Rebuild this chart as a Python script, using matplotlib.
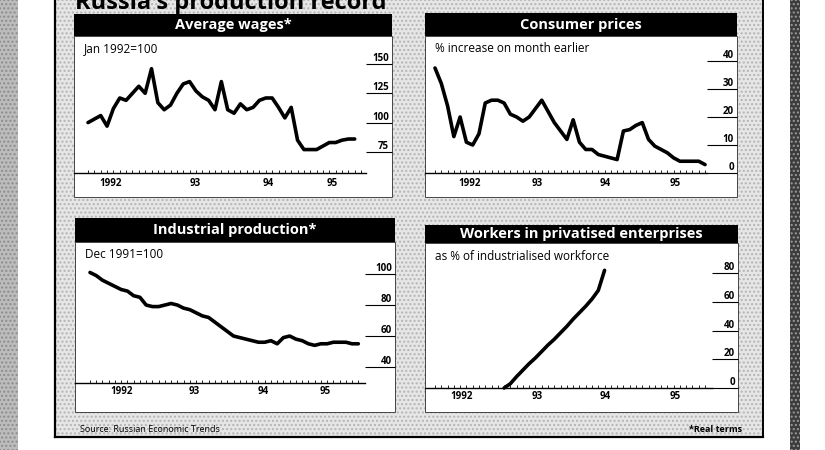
import matplotlib
matplotlib.use("Agg")
import matplotlib.pyplot as plt
from matplotlib.patches import Rectangle

plt.rcParams['font.family'] = ['Open Sans', 'DejaVu Sans']

W, H = 825, 450

# monthly values, Jan 1992 onwards
wages = [100, 103, 106, 97, 112, 121, 119, 125, 131, 125, 146, 117, 111, 115,
         125, 133, 135, 127, 122, 119, 111, 135, 111, 108, 116, 111, 113, 119,
         121, 121, 113, 104, 113, 85, 77, 77, 77, 80, 83, 83, 85, 86, 86]
wages_ticks = [75, 100, 125, 150]

prices = [37.5, 32, 24, 13, 20, 11, 10, 14, 25, 26, 26, 25, 21, 20, 18.5, 20,
          23, 26, 22, 18, 15, 12, 19, 11, 8.4, 8.4, 6.6, 6, 5.4, 4.8, 15, 15.5,
          17, 18, 12, 9.6, 8.4, 7.2, 5.4, 4.2, 4.2, 4.2, 4.2, 3]
prices_ticks = [0, 10, 20, 30, 40]

production = [101, 99, 96, 94, 92, 90, 89, 86, 85, 80, 79, 79, 80, 81, 80, 78,
              77, 75, 73, 72, 69, 66, 63, 60, 59, 58, 57, 56, 56, 57, 55, 59,
              60, 58, 57, 55, 54, 55, 55, 56, 56, 56, 55, 55]
production_ticks = [40, 60, 80, 100]

privatised_first_month = 11  # Dec 1992
privatised = [0, 3, 8, 12.5, 17, 21, 25.5, 30, 34, 38.5, 43, 48, 52.5, 57, 62,
              68, 82]
privatised_ticks = [0, 20, 40, 60, 80]

year_labels = ["1992", "93", "94", "95"]

fig = plt.figure(figsize=(W / 100, H / 100), dpi=100)


def rect(x0, y0, x1, y1, **kw):
    fig.add_artist(Rectangle((x0 / W, 1 - y1 / H), (x1 - x0) / W, (y1 - y0) / H,
                             transform=fig.transFigure, **kw))


def line(x0, y0, x1, y1, **kw):
    fig.add_artist(plt.Line2D([x0 / W, x1 / W], [1 - y0 / H, 1 - y1 / H],
                              transform=fig.transFigure, **kw))


# page background, stippled box and borders
rect(0, 0, 18, H, facecolor='#bcbcbc', edgecolor='#8c8c8c', hatch='....', lw=0)
rect(55, 0, 763, 437, facecolor='#e6e6e6', edgecolor='#b4b4b4', hatch='....', lw=0)
rect(790, 0, 800, H, facecolor='#3c3c3c', edgecolor='#999999', hatch='....', lw=0)
line(55, 0, 55, 437, color='black', lw=1.6)
line(763, 0, 763, 437, color='black', lw=1.4)
line(55, 437, 763, 437, color='black', lw=1.6)

# headline: the scan only shows its lower half
fig.text(75 / W, 1 - 9 / H, "Russia's production record", fontsize=17,
         fontweight='bold', va='baseline', ha='left')


def panel(values, first_month, ticks, title, note, box, bar_top, plot_right,
          baseline, m0_x, step, base_val, units_per_px, year_pos, label_pad):
    x0, y0, x1, y1 = box
    rect(x0, bar_top, x1, y0, facecolor='black', lw=0)
    rect(x0, y0, x1, y1, facecolor='white', edgecolor='#444444', lw=0.7)
    fig.text((x0 + x1) / 2 / W, 1 - (bar_top + y0) / 2 / H, title, color='white',
             fontsize=10.5, fontweight='bold', ha='center', va='center')
    fig.text((x0 + 10) / W, 1 - (y0 + 13) / H, note, fontsize=8.5, va='center')

    ax = fig.add_axes([x0 / W, 1 - baseline / H, (plot_right - x0) / W,
                       (baseline - y0) / H])
    ax.set_zorder(5)
    ax.patch.set_visible(False)
    for side in ('top', 'left', 'right'):
        ax.spines[side].set_visible(False)
    ax.spines['bottom'].set_linewidth(1.0)
    ax.set_xlim((x0 - m0_x) / step, (plot_right - m0_x) / step)
    ax.set_ylim(base_val, base_val + (baseline - y0) * units_per_px)

    months = range(first_month, first_month + len(values))
    ax.plot(months, values, color='black', lw=2.6, solid_joinstyle='round',
            solid_capstyle='round', clip_on=False)

    ax.set_xticks(year_pos, year_labels)
    ax.set_xticks(range(0, 44), minor=True)
    ax.tick_params(axis='x', which='major', length=0, pad=label_pad,
                   labelsize=7)
    ax.tick_params(axis='x', which='minor', direction='in', length=2.5,
                   width=0.6)
    for lab in ax.get_xticklabels():
        lab.set_fontweight('bold')

    tick_px = x1 - plot_right
    ax.set_yticks(ticks)
    ax.yaxis.tick_right()
    ax.tick_params(axis='y', length=tick_px * 0.72, width=0.8, labelright=False,
                   direction='out')
    ax_w = plot_right - x0
    for v in ticks:
        ax.text(1 + (tick_px - 3) / ax_w, v, str(v), transform=ax.get_yaxis_transform(),
                ha='right', va='bottom', fontsize=7, fontweight='bold')
    return ax


panel(wages, 0, wages_ticks, "Average wages*", "Jan 1992=100",
      box=(74, 36, 392, 197), bar_top=14, plot_right=366, baseline=173,
      m0_x=88, step=6.35, base_val=57, units_per_px=25 / 29.3,
      year_pos=[3.5, 16.9, 28.3, 38.5], label_pad=3.5)

panel(prices, 0, prices_ticks, "Consumer prices", "% increase on month earlier",
      box=(425, 36, 737, 197), bar_top=13, plot_right=707, baseline=173,
      m0_x=435, step=6.28, base_val=0, units_per_px=10 / 28,
      year_pos=[5.5, 16.2, 27.1, 38.2], label_pad=3.5)

panel(production, 0, production_ticks, "Industrial production*", "Dec 1991=100",
      box=(75, 242, 395, 412), bar_top=218, plot_right=365, baseline=383,
      m0_x=90, step=6.24, base_val=29.7, units_per_px=20 / 31,
      year_pos=[5.1, 16.7, 27.7, 37.7], label_pad=2)

panel(privatised, privatised_first_month, privatised_ticks,
      "Workers in privatised enterprises", "as % of industrialised workforce",
      box=(425, 243, 738, 412), bar_top=225, plot_right=712, baseline=388,
      m0_x=435, step=6.28, base_val=0, units_per_px=20 / 28.7,
      year_pos=[4.3, 16.2, 27.1, 38.2], label_pad=2)

fig.text(80 / W, 1 - 429 / H, "Source: Russian Economic Trends", fontsize=6.5,
         va='center')
fig.text(742 / W, 1 - 430 / H, "*Real terms", fontsize=6.5, fontweight='bold',
         va='center', ha='right')

fig.savefig("out.png", dpi=100)
